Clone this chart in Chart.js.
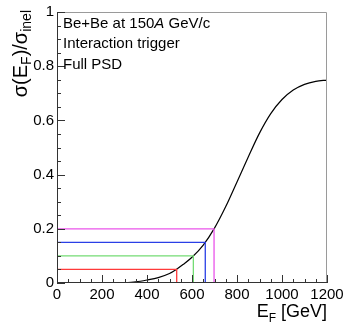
<!DOCTYPE html>
<html>
<head>
<meta charset="utf-8">
<script src="https://cdn.jsdelivr.net/npm/chart.js@4.4.0/dist/chart.umd.min.js"></script>
<style>
  html, body { margin: 0; padding: 0; background: #fff; }
  #wrap { width: 344px; height: 324px; }
</style>
</head>
<body>
<div id="wrap"><canvas id="psdChart" width="344" height="324"></canvas></div>
<script>
// forward energy curve E_F -> sigma(E_F)/sigma_inel
const energy   = [0, 100, 200, 250, 300, 350, 400, 450, 500, 530, 560, 600, 650, 700, 750, 800, 850, 900, 950, 1000, 1050, 1100, 1150, 1200];
const fraction = [0, 0, 0, 0, 0.001, 0.004, 0.011, 0.02, 0.035, 0.05, 0.068, 0.095, 0.14, 0.2025, 0.282, 0.373, 0.465, 0.553, 0.625, 0.677, 0.712, 0.733, 0.744, 0.749];

// centrality cuts: fraction level and the energy where the curve reaches it
const cutLevels   = [0.05, 0.1, 0.15, 0.2];
const cutEnergies = [532, 606, 659, 698];
const cutColors   = ['#ff3a3a', '#74dc74', '#2a3fe6', '#ea55ea'];

const yTicks = [0, 0.2, 0.4, 0.6, 0.8, 1];
const xTicks = [0, 200, 400, 600, 800, 1000, 1200];

const FONT = '"Liberation Sans", Arial, Helvetica, sans-serif';

const curve = energy.map((e, i) => ({ x: e, y: fraction[i] }));

const cutSets = cutLevels.map((lvl, i) => ({
  data: [{ x: 0, y: lvl }, { x: cutEnergies[i], y: lvl }, { x: cutEnergies[i], y: 0 }],
  borderColor: cutColors[i],
  borderWidth: 1.3,
  pointRadius: 0,
  tension: 0,
  fill: false
}));

// ROOT-like frame with ticks pointing inward, plus titles and the text box
const rootStyle = {
  id: 'rootStyle',
  afterDatasetsDraw(chart) {
    const { ctx, chartArea: a, scales } = chart;
    const xs = scales.x, ys = scales.y;
    ctx.save();
    // frame
    ctx.lineWidth = 1;
    ctx.strokeStyle = '#9a9a9a';
    ctx.beginPath();
    ctx.moveTo(a.left, a.top + 0.5); ctx.lineTo(a.right - 0.5, a.top + 0.5); ctx.lineTo(a.right - 0.5, a.bottom);
    ctx.stroke();
    ctx.strokeStyle = '#333';
    ctx.beginPath();
    ctx.moveTo(a.left + 0.5, a.top); ctx.lineTo(a.left + 0.5, a.bottom - 0.5); ctx.lineTo(a.right, a.bottom - 0.5);
    ctx.stroke();
    // y ticks every 0.05
    for (let k = 0; k <= 20; k++) {
      const v = k * 0.05;
      const py = Math.round(ys.getPixelForValue(v)) + 0.5;
      const len = k % 4 === 0 ? 8 : 4;
      ctx.beginPath(); ctx.moveTo(a.left, py); ctx.lineTo(a.left + len, py); ctx.stroke();
    }
    // x ticks every 50
    for (let k = 0; k <= 24; k++) {
      const v = k * 50;
      const px = Math.round(xs.getPixelForValue(v)) + 0.5;
      const len = k % 4 === 0 ? 8 : 4;
      ctx.beginPath(); ctx.moveTo(px, a.bottom); ctx.lineTo(px, a.bottom - len); ctx.stroke();
    }

    ctx.fillStyle = '#000';
    ctx.textBaseline = 'alphabetic';
    ctx.textAlign = 'left';

    // text box
    const tx = a.left + 6;
    let f = '15px ' + FONT;
    ctx.font = f;
    let x0 = tx;
    const parts = [['Be+Be at 150', f], ['A', 'italic 15px ' + FONT], [' GeV/c', f]];
    parts.forEach(([s, ft]) => { ctx.font = ft; ctx.fillText(s, x0, 28); x0 += ctx.measureText(s).width; });
    ctx.font = f;
    ctx.fillText('Interaction trigger', tx, 48);
    ctx.fillText('Full PSD', tx, 69);

    // x title: E_F [GeV]
    const big = '18px ' + FONT, sub = '12px ' + FONT;
    ctx.font = big; const wE = ctx.measureText('E').width; const wR = ctx.measureText(' [GeV]').width;
    ctx.font = sub; const wF = ctx.measureText('F').width;
    let xx = a.right - (wE + wF + wR);
    ctx.font = big; ctx.fillText('E', xx, 317); xx += wE;
    ctx.font = sub; ctx.fillText('F', xx, 322); xx += wF;
    ctx.font = big; ctx.fillText(' [GeV]', xx, 317);

    // y title: sigma(E_F)/sigma_inel, rotated
    const yb = '20px ' + FONT, ys2 = '14px ' + FONT;
    const seg = [['σ(E', yb, 0], ['F', ys2, 4], [')/σ', yb, 0], ['inel', ys2, 4]];
    let total = 0;
    seg.forEach(([s, ft]) => { ctx.font = ft; total += ctx.measureText(s).width; });
    ctx.translate(27, a.top - 2 + total);
    ctx.rotate(-Math.PI / 2);
    let p = 0;
    seg.forEach(([s, ft, dy]) => { ctx.font = ft; ctx.fillText(s, p, dy); p += ctx.measureText(s).width; });
    ctx.restore();
  }
};

new Chart(document.getElementById('psdChart'), {
  type: 'line',
  data: {
    datasets: [
      ...cutSets,
      {
        data: curve,
        borderColor: '#000',
        borderWidth: 1.2,
        pointRadius: 0,
        cubicInterpolationMode: 'monotone',
        fill: false
      }
    ]
  },
  options: {
    responsive: false,
    animation: false,
    layout: { padding: { top: 12, right: 17, left: 0, bottom: 0 } },
    plugins: { legend: { display: false }, tooltip: { enabled: false } },
    scales: {
      x: {
        type: 'linear', min: 0, max: 1200,
        afterFit: s => { s.height = 41; s.paddingLeft = 0; s.paddingRight = 0; },
        afterBuildTicks: s => { s.ticks = xTicks.map(v => ({ value: v })); },
        grid: { display: false, drawTicks: false },
        border: { display: false },
        ticks: {
          autoSkip: false, maxRotation: 0, padding: 3,
          color: '#000', font: { family: FONT, size: 15 },
          callback: v => String(v)
        }
      },
      y: {
        type: 'linear', min: 0, max: 1,
        afterFit: s => { s.width = 57; s.paddingTop = 0; s.paddingBottom = 0; },
        afterBuildTicks: s => { s.ticks = yTicks.map(v => ({ value: v })); },
        grid: { display: false, drawTicks: false },
        border: { display: false },
        ticks: {
          padding: 3, color: '#000', font: { family: FONT, size: 15 },
          callback: v => (v === 0 ? '0' : v === 1 ? '1' : v.toFixed(1))
        }
      }
    }
  },
  plugins: [rootStyle]
});
</script>
</body>
</html>
